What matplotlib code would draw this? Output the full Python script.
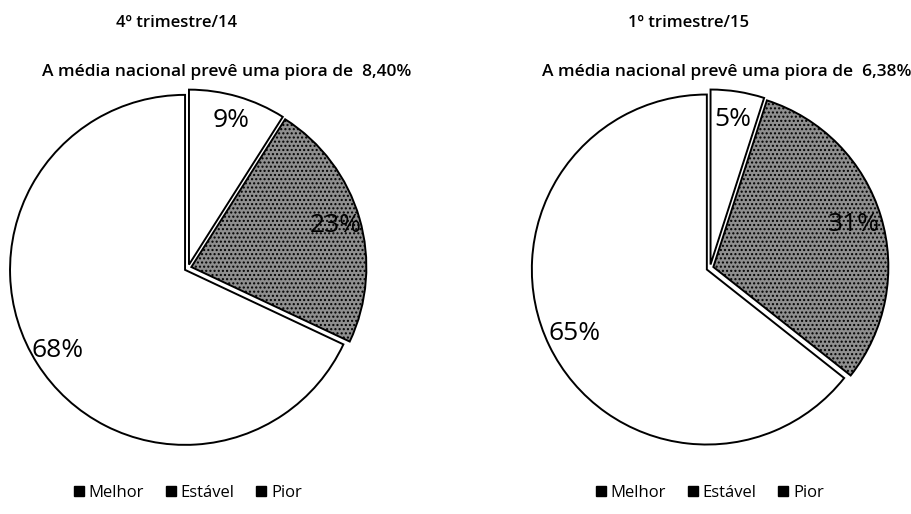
import matplotlib.pyplot as plt
from matplotlib.patches import Patch

plt.rcParams['font.family'] = ['Open Sans', 'DejaVu Sans']

# dados
categorias = ['Melhor', 'Estável', 'Pior']
trim_4_14 = [9, 23, 68]
trim_1_15 = [5, 31, 65]
titulos = ['4º trimestre/14', '1º trimestre/15']
subtitulos = ['A média nacional prevê uma piora de  8,40%',
              'A média nacional prevê uma piora de  6,38%']

cores = ['white', '#8f8f8f', 'white']
hatches = ['', '....', '']

fig = plt.figure(figsize=(9.11, 5.14), dpi=100)

centros = [188, 710]
raio = 175
series = [trim_4_14, trim_1_15]
pos_titulo = [177, 688]
pos_sub = [227, 727]
dist_rotulo = [0.86, 0.84]

for i, valores in enumerate(series):
    cx = centros[i]
    lim = 1.05
    w = 2 * raio * lim / 911
    h = 2 * raio * lim / 514
    ax = fig.add_axes([cx / 911 - w / 2, (514 - 268) / 514 - h / 2, w, h])
    wedges, textos, autotextos = ax.pie(
        valores, colors=cores, startangle=90, counterclock=False,
        explode=[0.02, 0.02, 0.02], autopct='%d%%',
        pctdistance=dist_rotulo[i],
        wedgeprops=dict(edgecolor='black', linewidth=1.4),
        textprops=dict(fontsize=19, color='black'))
    for wd, hc in zip(wedges, hatches):
        wd.set_hatch(hc)
    # rótulos com os valores originais (soma pode dar 101)
    for t, v in zip(autotextos, valores):
        t.set_text(f'{v}%')
    ax.set_xlim(-lim, lim)
    ax.set_ylim(-lim, lim)
    ax.set_aspect('equal')
    ax.axis('off')

    fig.text(pos_titulo[i] / 911, 1 - 23 / 514, titulos[i], ha='center',
             va='center', fontsize=12, fontweight='semibold')
    fig.text(pos_sub[i] / 911, 1 - 72 / 514, subtitulos[i], ha='center',
             va='center', fontsize=12.5, fontweight='semibold')

    handles = [Patch(facecolor='black', edgecolor='black', label=c)
               for c in categorias]
    fig.legend(handles=handles, loc='center', ncol=3, frameon=False,
               bbox_to_anchor=(cx / 911, 1 - 493 / 514), fontsize=12,
               handlelength=0.6, handleheight=0.6, handletextpad=0.3,
               columnspacing=1.3)

fig.savefig('out.png', dpi=100)
